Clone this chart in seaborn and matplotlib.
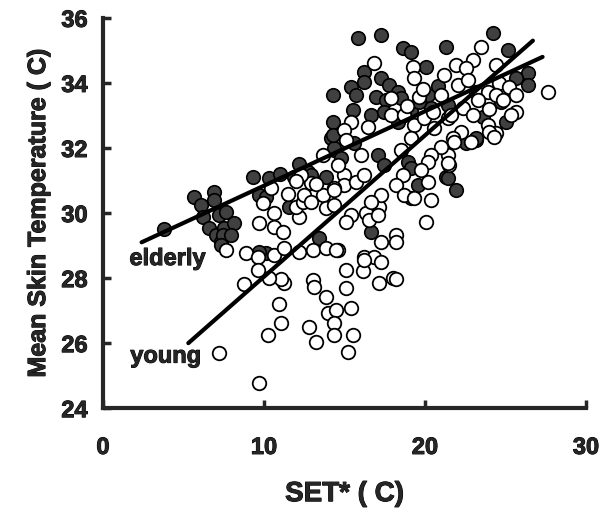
import matplotlib
matplotlib.use("Agg")
import matplotlib.pyplot as plt
import matplotlib.patheffects as pe
import seaborn as sns
import pandas as pd

# Young subjects (open circles): SET* (C), mean skin temperature (C)
YOUNG_SET = [16.83, 19.25, 19.32, 21.18, 17.89, 19.63, 20.99, 15.40, 14.97, 16.46,
             17.89, 18.70, 19.32, 19.94, 20.56, 21.43, 23.48, 22.98, 21.93, 22.55,
             24.41, 24.60, 25.22, 22.05, 22.67, 23.17, 23.91, 24.41, 27.64, 25.65,
             23.29, 24.84, 25.65, 25.34, 22.36, 21.61, 23.91, 24.41, 23.98, 22.24,
             21.74, 22.86, 24.29, 21.80, 21.43, 21.49, 19.13, 20.99, 20.37, 20.19,
             21.43, 19.75, 18.51, 18.63, 18.20, 18.70, 20.19, 20.37, 19.32, 20.06,
             18.20, 18.20, 17.27, 14.60, 16.21, 16.83, 14.97, 14.97, 15.71, 14.35,
             15.40, 15.09, 16.34, 17.14, 16.52, 17.08, 17.27, 16.65, 16.21, 16.02,
             14.60, 10.43, 9.94, 10.62, 9.69, 10.62, 11.18, 12.17, 11.99, 12.42,
             12.48, 12.92, 13.66, 14.35, 13.85, 14.35, 12.92, 12.30, 13.66, 8.88,
             9.63, 10.62, 11.24, 12.17, 13.04, 13.85, 14.47, 7.64, 7.20, 9.69,
             10.25, 11.06, 10.93, 8.76, 11.24, 11.06, 10.31, 9.63, 13.04, 13.11,
             13.85, 13.98, 14.47, 14.35, 12.80, 13.23, 14.35, 15.09, 16.15, 16.21,
             17.27, 17.14, 18.01, 18.20, 15.09, 15.40, 15.53, 15.22,
             12.00, 13.20, 11.50, 15.10, 18.90, 20.50, 19.90, 24.00, 23.00]
YOUNG_TSK = [34.62, 34.49, 34.15, 34.25, 33.54, 33.57, 33.63, 32.80, 32.55, 32.65,
             33.02, 33.02, 32.71, 32.92, 32.62, 32.92, 35.11, 34.71, 34.55, 34.46,
             34.55, 34.00, 33.88, 33.94, 34.09, 33.72, 33.72, 33.63, 33.72, 33.63,
             33.48, 33.48, 33.11, 33.02, 33.23, 33.02, 32.71, 32.46, 32.49, 32.49,
             32.31, 32.18, 32.34, 32.18, 31.78, 31.48, 32.31, 32.03, 31.78, 31.57,
             31.54, 31.32, 31.94, 31.17, 30.86, 30.55, 30.95, 30.40, 30.46, 29.72,
             29.32, 29.11, 29.11, 28.86, 28.65, 28.65, 31.17, 30.86, 30.95, 30.77,
             29.94, 29.72, 30.00, 30.18, 29.78, 29.94, 30.55, 30.34, 31.17, 31.78,
             31.48, 30.77, 30.31, 30.00, 29.69, 29.57, 29.42, 29.88, 30.18, 30.34,
             30.55, 30.34, 30.55, 30.71, 30.15, 30.25, 30.92, 31.17, 31.78, 28.77,
             28.65, 28.71, 28.92, 28.80, 28.86, 28.92, 28.86, 28.86, 25.69, 24.77,
             26.25, 26.62, 27.20, 27.82, 27.85, 27.97, 28.00, 28.25, 27.94, 27.72,
             27.42, 26.92, 27.02, 26.62, 26.49, 26.03, 26.25, 28.25, 28.22, 28.55,
             28.49, 27.85, 28.00, 27.97, 27.69, 27.08, 26.25, 25.72,
             31.00, 30.90, 30.60, 32.25, 33.30, 33.10, 33.80, 33.20, 33.00]

# Elderly subjects (filled circles)
ELDERLY_SET = [3.79, 5.65, 6.89, 6.89, 6.09, 6.21, 7.20, 6.58, 7.02, 7.33,
               7.52, 14.16, 14.35, 9.32, 10.31, 9.69, 10.12, 7.64, 8.14, 7.45,
               7.95, 7.33, 11.55, 12.73, 12.92, 11.86, 13.85, 10.12, 9.69, 13.42,
               18.94, 19.13, 21.30, 19.57, 19.13, 16.65, 17.08, 17.45, 14.35, 14.78,
               15.59, 22.55, 23.17, 21.43, 21.93, 15.84, 17.27, 18.63, 19.13, 21.30,
               16.21, 16.21, 20.06, 15.40, 15.71, 17.27, 17.76, 18.32, 16.96, 17.58,
               14.29, 15.53, 18.51, 20.19, 16.65, 14.29, 14.29, 17.45, 18.32, 19.13,
               20.37, 21.43, 24.22, 25.16, 26.40, 26.40, 25.65, 24.72, 23.60, 25.03,
               23.17, 11.00, 12.20, 19.60, 20.80]
ELDERLY_TSK = [29.51, 30.49, 30.65, 30.40, 30.25, 29.88, 29.94, 29.54, 29.32, 29.11,
               29.54, 32.31, 31.94, 31.11, 31.08, 30.55, 30.49, 30.03, 29.69, 29.32,
               29.32, 29.02, 30.18, 31.26, 31.17, 31.11, 31.11, 28.77, 28.80, 29.23,
               31.57, 31.38, 31.11, 30.86, 30.46, 29.42, 31.78, 31.48, 32.00, 31.69,
               32.15, 32.15, 32.25, 31.08, 30.71, 35.38, 35.48, 35.08, 34.95, 35.11,
               34.34, 34.03, 34.49, 33.88, 33.63, 34.15, 33.94, 33.72, 33.57, 33.48,
               33.63, 33.17, 33.54, 33.63, 33.02, 32.80, 32.40, 33.11, 32.80, 33.17,
               33.23, 33.32, 35.54, 35.02, 34.31, 33.94, 34.15, 33.42, 32.95, 32.80,
               32.31, 31.20, 31.50, 33.40, 33.90]

# Regression lines
ELDERLY_LINE_X = [2.4, 27.3]
ELDERLY_LINE_Y = [29.1, 34.8]
YOUNG_LINE_X = [5.3, 26.7]
YOUNG_LINE_Y = [26.0, 35.3]

X_TICKS = [0, 10, 20, 30]
Y_TICKS = [24, 26, 28, 30, 32, 34, 36]

young = pd.DataFrame({"set": YOUNG_SET, "tsk": YOUNG_TSK})
elderly = pd.DataFrame({"set": ELDERLY_SET, "tsk": ELDERLY_TSK})

sns.set_style("ticks")
plt.rcParams["font.family"] = ["Liberation Sans", "DejaVu Sans"]
plt.rcParams["font.weight"] = "bold"

fig = plt.figure(figsize=(6.13, 5.26), dpi=100)
ax = fig.add_axes([0.168, 0.224, 0.788, 0.742])

sns.scatterplot(data=elderly, x="set", y="tsk", ax=ax, s=95, color="#404040",
                edgecolor="black", linewidth=1.2, zorder=3)
sns.scatterplot(data=young, x="set", y="tsk", ax=ax, s=95, color="white",
                edgecolor="black", linewidth=1.3, zorder=3)

sns.lineplot(x=ELDERLY_LINE_X, y=ELDERLY_LINE_Y, ax=ax, color="black", linewidth=3, zorder=4)
sns.lineplot(x=YOUNG_LINE_X, y=YOUNG_LINE_Y, ax=ax, color="black", linewidth=3, zorder=4)

heavy = [pe.withStroke(linewidth=0.7, foreground="black")]

ax.text(4.0, 28.6, "elderly", fontsize=17, fontweight="bold", ha="center", va="center",
        path_effects=heavy)
ax.text(3.9, 25.6, "young", fontsize=17, fontweight="bold", ha="center", va="center",
        path_effects=heavy)

ax.set_xlim(0, 30)
ax.set_ylim(24, 36)
ax.set_xticks(X_TICKS)
ax.set_yticks(Y_TICKS)
ax.tick_params(direction="in", length=6, width=2.5, labelsize=17)
ax.tick_params(axis="x", pad=20)
ax.tick_params(axis="y", pad=11)
for lab in ax.get_xticklabels() + ax.get_yticklabels():
    lab.set_fontweight("bold")
    lab.set_path_effects(heavy)
sns.despine(ax=ax)
ax.spines["left"].set_linewidth(3)
ax.spines["bottom"].set_linewidth(3)

ax.set_xlabel("SET* ( C)", fontsize=20, fontweight="bold", labelpad=16, path_effects=heavy)
ax.set_ylabel("Mean Skin Temperature ( C)", fontsize=18, fontweight="bold", labelpad=8,
              path_effects=heavy)

fig.savefig("out.png", dpi=100)
